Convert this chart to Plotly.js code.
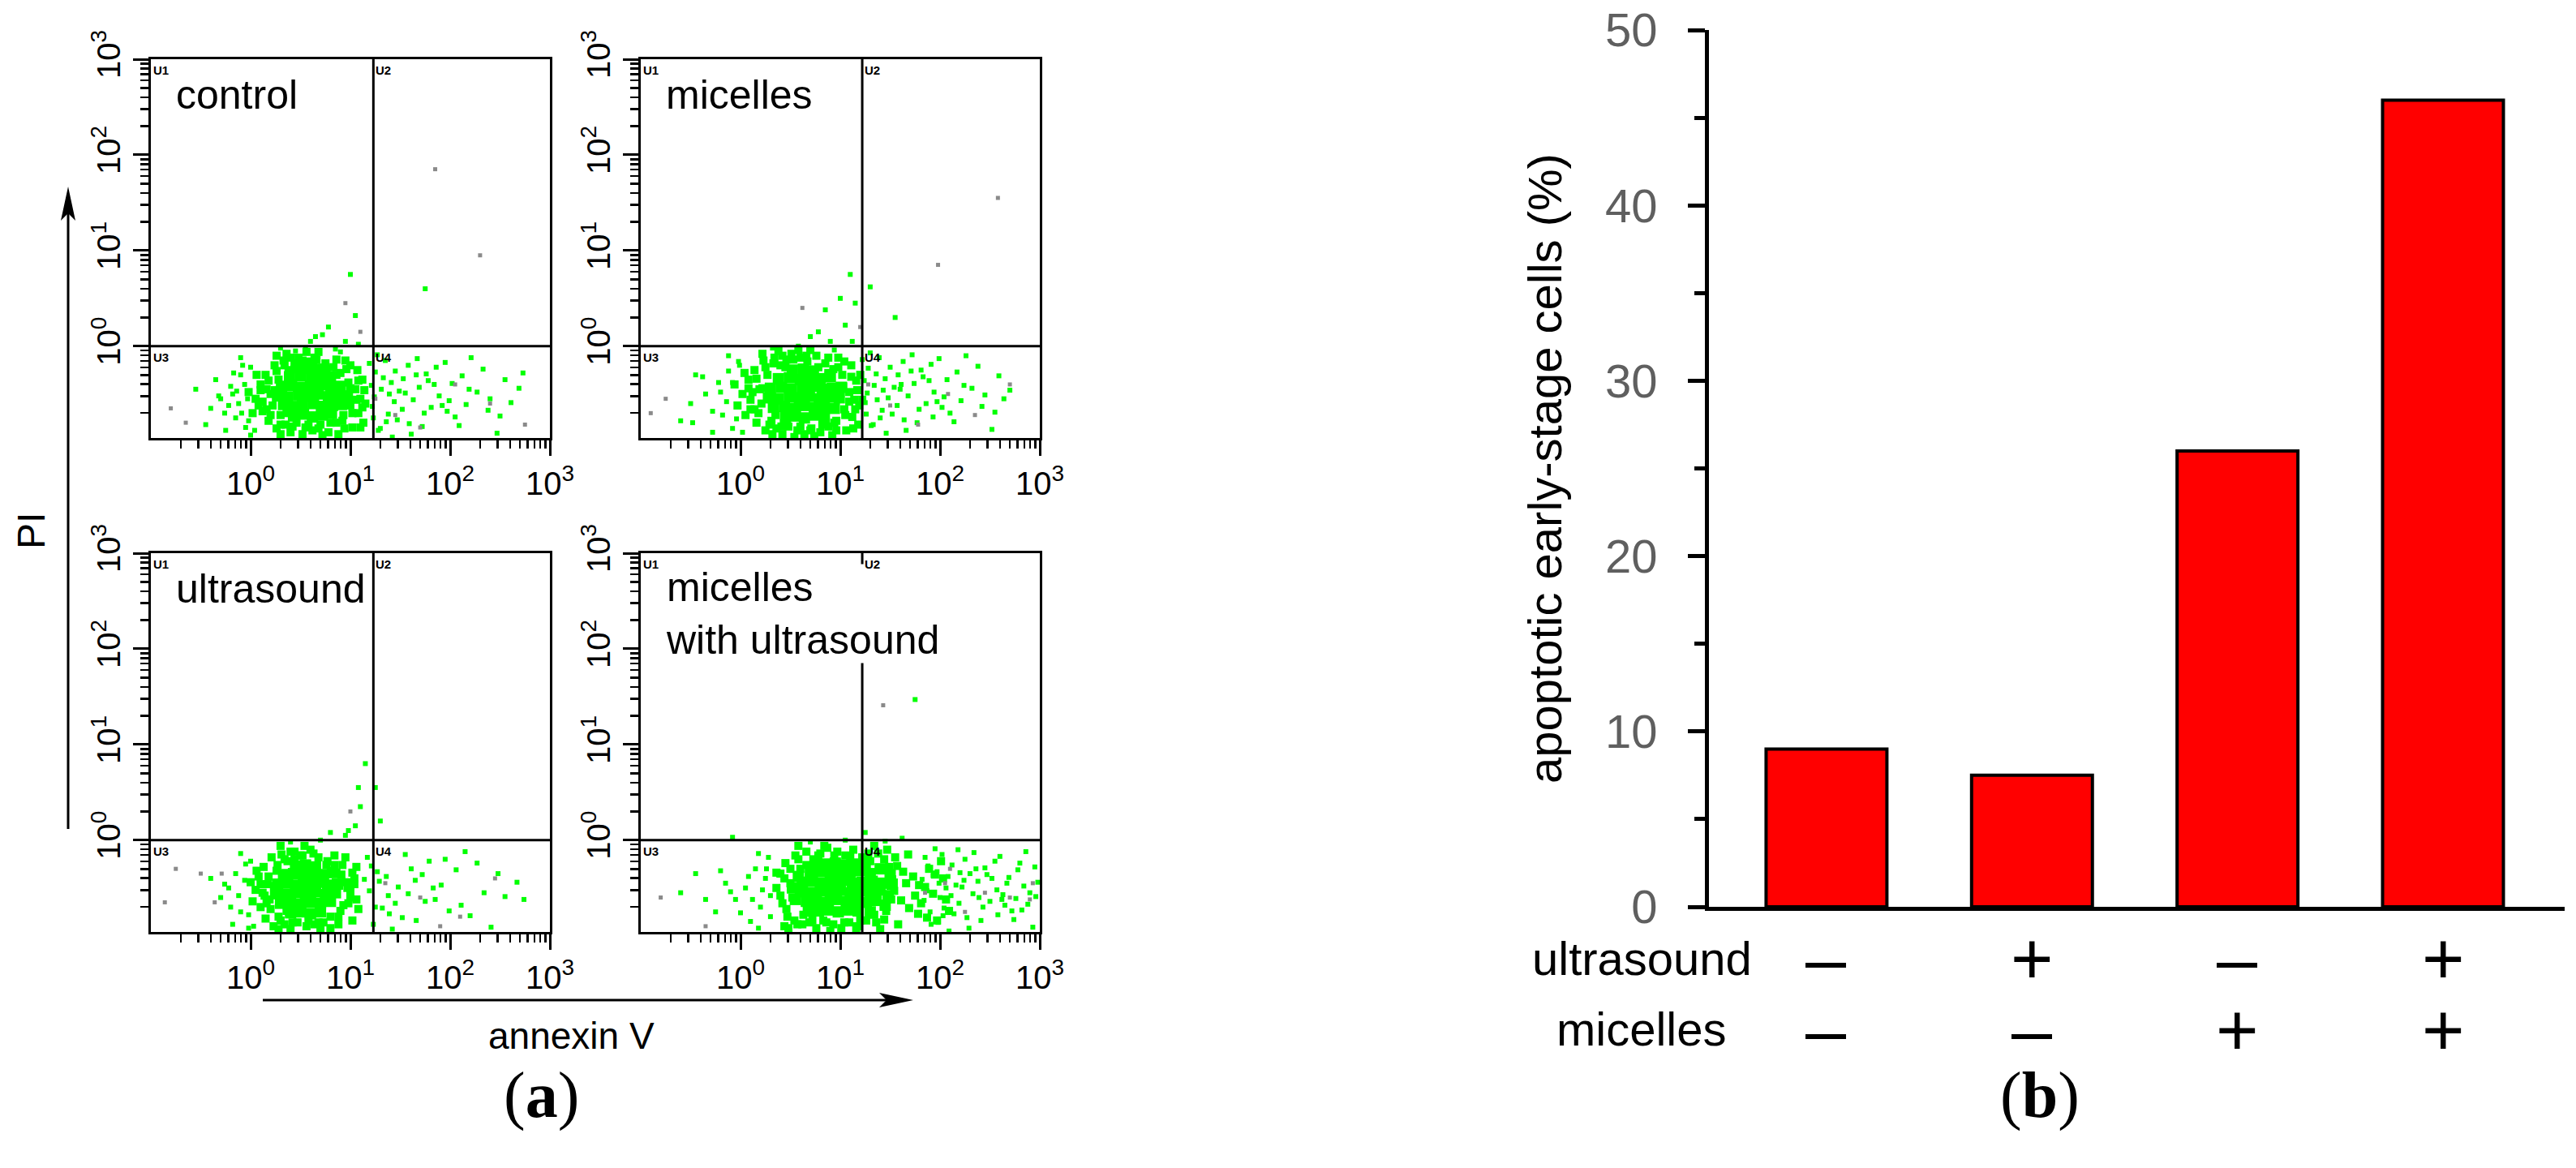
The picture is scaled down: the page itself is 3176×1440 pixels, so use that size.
<!DOCTYPE html>
<html>
<head>
<meta charset="utf-8">
<script src="https://cdn.plot.ly/plotly-3.0.1.min.js"></script>
<style>html,body{margin:0;padding:0;background:#fff;}#chart{width:3176px;height:1440px;}</style>
</head>
<body>
<div id="chart"></div>
<script>
// ---------------- DATA ----------------
// Flow cytometry dot plots: [log10(annexin V), log10(PI)]
// ---- control ----
const ctrlCore = [[0.43,-0.73],[0.53,-0.71],[0.62,-0.74],[0.72,-0.72],[0.81,-0.70],[0.33,-0.61],[0.42,-0.63],[0.52,-0.62],[0.63,-0.60],[0.71,-0.63],[0.82,-0.62],[0.91,-0.61],[0.27,-0.52],[0.37,-0.53],[0.48,-0.51],[0.58,-0.52],[0.68,-0.50],[0.78,-0.53],[0.88,-0.51],[0.97,-0.52],[0.31,-0.42],[0.41,-0.41],[0.50,-0.43],[0.60,-0.42],[0.70,-0.40],[0.80,-0.43],[0.90,-0.42],[0.39,-0.32],[0.50,-0.31],[0.61,-0.33],[0.71,-0.31],[0.80,-0.32],[0.51,-0.23],[0.61,-0.22],[0.71,-0.24]];
const ctrlMid = [[0.05,-0.55],[0.10,-0.40],[0.12,-0.68],[0.15,-0.30],[0.18,-0.78],[0.20,-0.50],[0.22,-0.62],[0.24,-0.20],[0.26,-0.86],[0.28,-0.35],[0.30,-0.72],[0.33,-0.15],[0.35,-0.82],[0.38,-0.25],[0.40,-0.90],[0.44,-0.18],[0.46,-0.80],[0.48,-0.12],[0.55,-0.85],[0.58,-0.16],[0.62,-0.88],[0.66,-0.14],[0.70,-0.82],[0.75,-0.18],[0.78,-0.90],[0.83,-0.22],[0.86,-0.80],[0.90,-0.28],[0.93,-0.72],[0.95,-0.15],[0.98,-0.38],[1.00,-0.62],[1.02,-0.85],[1.05,-0.45],[1.07,-0.25],[1.08,-0.70],[1.10,-0.55],[1.12,-0.35],[1.13,-0.80],[0.08,-0.62],[0.16,-0.45],[0.02,-0.70],[-0.02,-0.48],[0.36,-0.08],[0.68,-0.06],[0.52,-0.92],[0.88,-0.92],[1.15,-0.60],[1.00,-0.20],[0.26,-0.10],
  [0.12,-0.58],[0.18,-0.36],[0.20,-0.72],[0.24,-0.46],[0.26,-0.26],[0.30,-0.82],[0.34,-0.20],[0.36,-0.70],[0.42,-0.84],[0.44,-0.24],[0.52,-0.15],[0.58,-0.82],[0.64,-0.12],[0.68,-0.86],[0.76,-0.24],[0.80,-0.80],[0.86,-0.30],[0.92,-0.78],[0.96,-0.24],[1.00,-0.44],[1.02,-0.70],[1.06,-0.56],[1.08,-0.36],[1.12,-0.64],[0.10,-0.46],[0.16,-0.66],[0.94,-0.86],[0.40,-0.12],[0.86,-0.14],[1.14,-0.46],[0.06,-0.30],[0.30,-0.92],[0.72,-0.93],[1.10,-0.85],[0.56,-0.06]];
const ctrlHalo = [[-0.30,-0.55],[-0.20,-0.42],[-0.15,-0.75],[-0.10,-0.30],[-0.05,-0.85],[-0.55,-0.45],[-0.25,-0.88],[-0.08,-0.20],[0.00,-0.93],[-0.40,-0.65],[0.45,-0.05],[0.60,0.05],[0.72,0.12],[0.78,0.20],[0.95,0.05],[1.00,0.75],[1.05,0.32],[0.85,-0.03],[1.75,0.60],[-0.12,-0.60],[-0.06,-0.40],[-0.02,-0.78],[0.00,-0.22],[-0.18,-0.50],[-0.26,-0.70],[-0.35,-0.35],[0.04,-0.88],[-0.10,-0.12],[-0.45,-0.82],[0.30,-0.02],[0.55,-0.02],[0.90,-0.06],[0.65,0.10],[1.08,0.02],[-0.22,-0.62],[-0.14,-0.47],[-0.03,-0.55],[-0.09,-0.70],[-0.17,-0.28],[-0.32,-0.52]];
const ctrlTail = [[1.21,-0.41],[1.47,-0.77],[1.19,-0.18],[1.63,-0.56],[1.33,-0.33],[1.28,-0.88],[1.92,-0.62],[1.25,-0.27],[1.55,-0.49],[1.38,-0.71],[2.21,-0.12],[1.41,-0.38],[1.72,-0.84],[1.24,-0.53],[1.86,-0.22],[1.52,-0.66],[1.31,-0.45],[2.47,-0.91],[1.66,-0.30],[1.44,-0.58],[1.35,-0.15],[2.05,-0.74],[1.78,-0.36],[1.22,-0.63],[1.59,-0.81],[2.33,-0.24],[1.49,-0.47],[1.97,-0.68],[1.27,-0.09],[2.61,-0.59],[1.69,-0.43],[1.36,-0.79],[2.12,-0.31],[1.81,-0.64],[1.58,-0.20],[2.40,-0.55],[1.30,-0.86],[2.02,-0.39],[1.74,-0.70],[1.45,-0.26],[2.27,-0.48],[1.89,-0.52],[2.55,-0.35],[1.61,-0.92],[2.16,-0.61],[1.39,-0.50],[2.69,-0.44],[1.95,-0.17],[1.23,-0.75],[2.09,-0.83],[1.84,-0.40],[2.38,-0.67],[1.53,-0.34],[2.73,-0.28],[1.67,-0.13],[2.50,-0.73],[1.99,-0.57],[1.76,-0.29],[2.19,-0.45],[1.42,-0.95]];
const ctrlGray = [[-0.80,-0.65],[-0.65,-0.80],[1.25,-0.55],[1.45,-0.72],[1.70,-0.85],[2.05,-0.40],[2.40,-0.60],[2.75,-0.82],[1.10,0.15],[1.85,1.85],[2.30,0.95],[0.95,0.45]];

// ---- micelles ----
const micCore = [[0.45,-0.74],[0.55,-0.73],[0.64,-0.75],[0.74,-0.72],[0.84,-0.74],[0.33,-0.64],[0.44,-0.63],[0.54,-0.65],[0.64,-0.62],[0.74,-0.64],[0.84,-0.63],[0.94,-0.65],[0.28,-0.54],[0.38,-0.55],[0.49,-0.53],[0.59,-0.54],[0.69,-0.52],[0.79,-0.55],[0.89,-0.53],[0.99,-0.54],[0.30,-0.44],[0.41,-0.43],[0.51,-0.45],[0.62,-0.44],[0.72,-0.42],[0.82,-0.45],[0.92,-0.44],[1.01,-0.43],[0.38,-0.34],[0.49,-0.33],[0.60,-0.35],[0.70,-0.33],[0.80,-0.34],[0.90,-0.32],[0.52,-0.25],[0.63,-0.24],[0.73,-0.26]];
const micMid = [[0.02,-0.50],[0.08,-0.35],[0.10,-0.66],[0.14,-0.25],[0.16,-0.80],[0.19,-0.45],[0.21,-0.60],[0.23,-0.15],[0.25,-0.88],[0.27,-0.30],[0.31,-0.78],[0.34,-0.12],[0.36,-0.86],[0.40,-0.20],[0.42,-0.92],[0.46,-0.14],[0.48,-0.84],[0.51,-0.08],[0.57,-0.88],[0.60,-0.12],[0.64,-0.92],[0.67,-0.16],[0.71,-0.86],[0.76,-0.10],[0.80,-0.90],[0.85,-0.18],[0.88,-0.84],[0.93,-0.24],[0.96,-0.78],[0.98,-0.12],[1.02,-0.30],[1.04,-0.66],[1.06,-0.88],[1.09,-0.48],[1.11,-0.20],[1.12,-0.74],[1.14,-0.56],[1.16,-0.36],[1.18,-0.82],[0.05,-0.72],[0.12,-0.48],[-0.03,-0.62],[-0.06,-0.40],[0.38,-0.05],[0.70,-0.04],[0.54,-0.95],[0.92,-0.93],[1.19,-0.62],[1.04,-0.16],[0.22,-0.08],
  [0.10,-0.56],[0.16,-0.34],[0.18,-0.70],[0.22,-0.44],[0.25,-0.22],[0.29,-0.82],[0.33,-0.18],[0.35,-0.72],[0.41,-0.84],[0.45,-0.22],[0.53,-0.14],[0.60,-0.84],[0.66,-0.10],[0.70,-0.88],[0.78,-0.22],[0.82,-0.82],[0.88,-0.28],[0.94,-0.80],[0.98,-0.22],[1.03,-0.42],[1.05,-0.72],[1.09,-0.58],[1.11,-0.32],[1.15,-0.66],[0.08,-0.44],[0.14,-0.66],[0.96,-0.88],[0.42,-0.10],[0.88,-0.12],[1.17,-0.46],[0.04,-0.28],[0.32,-0.92],[0.74,-0.94],[1.13,-0.86],[0.58,-0.04],[1.20,-0.30],[1.22,-0.56]];
const micHalo = [[-0.35,-0.50],[-0.22,-0.38],[-0.18,-0.72],[-0.12,-0.26],[-0.08,-0.86],[-0.50,-0.60],[-0.28,-0.90],[-0.45,-0.30],[-0.02,-0.16],[-0.60,-0.78],[0.70,0.10],[0.90,0.05],[1.05,0.22],[1.15,0.45],[1.10,0.75],[1.30,0.62],[1.55,0.30],[0.85,0.38],[-0.14,-0.58],[-0.08,-0.38],[-0.04,-0.76],[-0.01,-0.20],[-0.20,-0.48],[-0.28,-0.68],[-0.38,-0.32],[0.02,-0.90],[-0.12,-0.10],[-0.48,-0.80],[0.32,-0.02],[0.58,0.00],[0.94,-0.04],[0.78,0.15],[1.12,0.05],[1.00,0.50]];
const micTail = [[1.24,-0.36],[1.52,-0.71],[1.22,-0.14],[1.68,-0.52],[1.36,-0.29],[1.31,-0.83],[1.97,-0.58],[1.28,-0.23],[1.60,-0.45],[1.42,-0.67],[2.26,-0.10],[1.45,-0.34],[1.77,-0.80],[1.27,-0.49],[1.91,-0.19],[1.57,-0.62],[1.34,-0.41],[2.52,-0.87],[1.71,-0.26],[1.48,-0.54],[1.39,-0.12],[2.10,-0.70],[1.83,-0.32],[1.25,-0.59],[1.64,-0.77],[2.38,-0.21],[1.54,-0.43],[2.02,-0.64],[1.30,-0.07],[2.64,-0.55],[1.74,-0.39],[1.40,-0.75],[2.17,-0.27],[1.86,-0.60],[1.63,-0.16],[2.45,-0.51],[1.33,-0.82],[2.07,-0.35],[1.79,-0.66],[1.50,-0.22],[2.32,-0.44],[1.94,-0.48],[2.59,-0.31],[1.66,-0.88],[2.21,-0.57],[1.43,-0.46],[1.99,-0.13],[1.26,-0.71],[2.14,-0.79],[1.89,-0.36],[2.42,-0.63],[1.58,-0.30],[1.72,-0.09],[2.55,-0.69],[2.04,-0.53],[1.81,-0.25],[2.24,-0.41],[1.46,-0.91],[1.37,-0.56],[1.61,-0.40],[1.93,-0.74],[2.70,-0.46]];
const micGray = [[-0.75,-0.55],[-0.90,-0.70],[1.28,-0.40],[1.50,-0.62],[1.78,-0.82],[2.08,-0.50],[2.35,-0.72],[2.70,-0.40],[1.20,0.20],[2.58,1.55],[1.98,0.85],[0.62,0.40]];

// ---- ultrasound ----
const usCore = [[0.40,-0.76],[0.50,-0.75],[0.60,-0.77],[0.70,-0.75],[0.30,-0.66],[0.40,-0.65],[0.50,-0.67],[0.60,-0.65],[0.70,-0.66],[0.80,-0.64],[0.25,-0.56],[0.35,-0.57],[0.45,-0.55],[0.55,-0.56],[0.65,-0.54],[0.75,-0.57],[0.85,-0.55],[0.27,-0.46],[0.37,-0.45],[0.47,-0.47],[0.57,-0.46],[0.67,-0.44],[0.77,-0.47],[0.87,-0.46],[0.33,-0.36],[0.43,-0.35],[0.53,-0.37],[0.63,-0.35],[0.73,-0.36],[0.82,-0.34],[0.45,-0.27],[0.55,-0.26],[0.65,-0.28]];
const usMid = [[0.05,-0.52],[0.08,-0.38],[0.10,-0.70],[0.13,-0.28],[0.15,-0.82],[0.17,-0.46],[0.19,-0.62],[0.21,-0.18],[0.23,-0.90],[0.26,-0.32],[0.28,-0.80],[0.31,-0.15],[0.34,-0.88],[0.37,-0.22],[0.40,-0.93],[0.44,-0.12],[0.47,-0.86],[0.50,-0.16],[0.56,-0.90],[0.60,-0.10],[0.64,-0.88],[0.68,-0.18],[0.73,-0.86],[0.77,-0.22],[0.80,-0.92],[0.84,-0.26],[0.88,-0.80],[0.91,-0.36],[0.93,-0.68],[0.95,-0.18],[0.97,-0.50],[1.00,-0.60],[1.02,-0.84],[1.04,-0.40],[1.06,-0.28],[1.08,-0.72],[0.02,-0.64],[0.00,-0.44],[0.12,-0.55],[0.30,-0.06],
  [0.14,-0.58],[0.18,-0.38],[0.20,-0.72],[0.24,-0.48],[0.27,-0.26],[0.30,-0.84],[0.34,-0.20],[0.36,-0.74],[0.42,-0.86],[0.44,-0.20],[0.52,-0.16],[0.58,-0.84],[0.63,-0.14],[0.68,-0.86],[0.76,-0.26],[0.80,-0.80],[0.86,-0.34],[0.90,-0.74],[0.92,-0.26],[0.96,-0.44],[0.98,-0.66],[1.00,-0.54],[1.02,-0.34],[0.10,-0.46],[0.16,-0.66],[0.88,-0.88],[0.40,-0.12],[0.84,-0.16],[0.06,-0.32],[0.28,-0.93],[0.70,-0.93],[0.54,-0.06],[1.06,-0.62],[1.04,-0.46]];
const usHalo = [[-0.22,-0.50],[-0.15,-0.35],[-0.10,-0.75],[-0.05,-0.25],[-0.18,-0.88],[-0.30,-0.60],[-0.02,-0.92],[-0.40,-0.40],[0.95,0.05],[1.05,0.15],[1.10,0.35],[1.15,0.80],[1.25,0.55],[1.30,0.20],[0.80,0.08],[-0.12,-0.58],[-0.06,-0.42],[-0.02,-0.78],[0.00,-0.22],[-0.20,-0.70],[-0.26,-0.46],[0.03,-0.90],[-0.10,-0.14],[0.40,-0.02],[0.70,0.00],[0.98,0.10],[1.08,0.55]];
const usTail = [[1.14,-0.41],[1.39,-0.77],[1.17,-0.18],[1.58,-0.56],[1.27,-0.33],[1.23,-0.88],[1.85,-0.62],[1.21,-0.27],[1.48,-0.49],[1.32,-0.71],[2.15,-0.12],[1.36,-0.38],[1.66,-0.84],[1.19,-0.53],[1.79,-0.22],[1.45,-0.66],[2.41,-0.91],[1.61,-0.30],[1.38,-0.58],[1.99,-0.74],[1.72,-0.36],[2.27,-0.24],[1.52,-0.81],[1.91,-0.47],[2.55,-0.59],[1.29,-0.43],[2.06,-0.31],[1.75,-0.64],[2.34,-0.55],[1.95,-0.20],[2.67,-0.44],[1.55,-0.15],[2.11,-0.68],[1.42,-0.93],[2.48,-0.35],[1.83,-0.50],[2.20,-0.79],[1.65,-0.42],[2.74,-0.62],[1.25,-0.70]];
const usGray = [[-0.75,-0.30],[-0.50,-0.35],[-0.29,-0.35],[-0.86,-0.65],[-0.36,-0.65],[1.35,-0.45],[1.70,-0.60],[2.10,-0.80],[2.45,-0.40],[1.00,0.30],[1.90,-0.90]];

// ---- micelles with ultrasound ----
const muCore = [[0.78,-0.74],[0.88,-0.73],[0.98,-0.75],[1.08,-0.73],[1.18,-0.74],[0.66,-0.64],[0.76,-0.63],[0.86,-0.65],[0.96,-0.62],[1.06,-0.64],[1.16,-0.63],[1.26,-0.65],[1.36,-0.63],[0.60,-0.54],[0.70,-0.55],[0.80,-0.53],[0.90,-0.54],[1.00,-0.52],[1.10,-0.55],[1.20,-0.53],[1.30,-0.54],[1.40,-0.52],[0.62,-0.44],[0.72,-0.43],[0.82,-0.45],[0.92,-0.44],[1.02,-0.42],[1.12,-0.45],[1.22,-0.44],[1.32,-0.43],[1.42,-0.45],[0.70,-0.34],[0.80,-0.33],[0.90,-0.35],[1.00,-0.33],[1.10,-0.34],[1.20,-0.32],[1.30,-0.35],[0.85,-0.25],[0.95,-0.24],[1.05,-0.26],[1.15,-0.25],
  [0.52,-0.50],[0.55,-0.62],[0.58,-0.38],[1.48,-0.58],[1.52,-0.46],[1.50,-0.36],[1.45,-0.68],[0.68,-0.74],[1.30,-0.75],[1.40,-0.30],[0.75,-0.25],[1.25,-0.26]];
const muMid = [[0.36,-0.50],[0.40,-0.35],[0.42,-0.66],[0.45,-0.24],[0.47,-0.80],[0.50,-0.45],[0.52,-0.60],[0.55,-0.16],[0.57,-0.88],[0.60,-0.30],[0.63,-0.78],[0.66,-0.12],[0.69,-0.86],[0.73,-0.20],[0.76,-0.92],[0.80,-0.14],[0.83,-0.84],[0.87,-0.08],[0.93,-0.88],[0.97,-0.12],[1.01,-0.92],[1.05,-0.16],[1.09,-0.86],[1.13,-0.10],[1.17,-0.90],[1.22,-0.18],[1.26,-0.84],[1.30,-0.22],[1.34,-0.78],[1.38,-0.14],[1.47,-0.10],[0.44,-0.90],[1.40,-0.93],[0.90,-0.95],[0.58,-0.06],
  [0.40,-0.58],[0.44,-0.40],[0.46,-0.72],[0.50,-0.30],[0.54,-0.84],[0.58,-0.20],[0.62,-0.88],[0.66,-0.26],[0.72,-0.84],[0.78,-0.16],[0.86,-0.86],[0.94,-0.16],[1.04,-0.86],[1.10,-0.18],[1.20,-0.84],[1.28,-0.14],[1.36,-0.86],[1.44,-0.20],[0.36,-0.34],[0.48,-0.92],[1.16,-0.93],[0.84,-0.06],[1.34,-0.06],
  [1.52,-0.41],[1.78,-0.77],[1.55,-0.18],[1.93,-0.56],[1.63,-0.33],[1.58,-0.88],[2.06,-0.62],[1.57,-0.27],[1.85,-0.49],[1.69,-0.71],[1.73,-0.38],[1.97,-0.84],[1.54,-0.53],[2.01,-0.22],[1.81,-0.66],[1.66,-0.45],[1.89,-0.30],[1.75,-0.58],[1.68,-0.15],[2.09,-0.74],[1.95,-0.36],[1.61,-0.63],[1.87,-0.81],[1.79,-0.47],[2.03,-0.40],[1.46,-0.74],[1.49,-0.28],[1.44,-0.83],[1.51,-0.62]];
const muHalo = [[0.30,-0.58],[0.25,-0.40],[0.20,-0.70],[0.15,-0.30],[0.10,-0.85],[0.05,-0.50],[-0.05,-0.62],[-0.15,-0.45],[-0.25,-0.75],[-0.45,-0.35],[-0.60,-0.55],[0.28,-0.18],[0.18,-0.92],[-0.08,0.03],[1.62,0.02],[1.75,1.47],[0.22,-0.52],[0.26,-0.30],[0.12,-0.62],[0.08,-0.38],[0.00,-0.76],[-0.10,-0.54],[-0.20,-0.32],[0.30,-0.80],[0.18,-0.14],[-0.35,-0.62],[0.70,-0.02],[1.05,0.00],[1.45,-0.01],[1.25,0.08]];
const muTail = [[1.82,-0.41],[2.14,-0.77],[1.85,-0.18],[2.33,-0.56],[1.97,-0.33],[1.91,-0.88],[2.62,-0.62],[1.88,-0.27],[2.22,-0.49],[2.04,-0.71],[2.86,-0.12],[2.08,-0.38],[2.41,-0.84],[1.87,-0.53],[2.55,-0.22],[2.19,-0.66],[1.99,-0.45],[2.93,-0.91],[2.36,-0.30],[2.11,-0.58],[2.02,-0.15],[2.72,-0.74],[2.47,-0.36],[1.84,-0.63],[2.27,-0.81],[2.80,-0.24],[2.16,-0.47],[2.65,-0.68],[1.95,-0.09],[2.96,-0.59],[2.38,-0.43],[2.03,-0.79],[2.78,-0.31],[2.50,-0.64],[2.25,-0.20],[2.90,-0.55],[1.98,-0.86],[2.69,-0.39],[2.43,-0.70],[2.12,-0.26],[2.84,-0.48],[2.57,-0.52],[2.30,-0.35],[2.29,-0.92],[2.76,-0.61],[2.06,-0.50],[2.98,-0.44],[2.60,-0.17],[1.90,-0.75],[2.74,-0.83],[2.52,-0.40],[2.88,-0.67],[2.20,-0.34],[2.95,-0.28],[2.34,-0.13],[2.82,-0.73],[2.63,-0.57],[2.45,-0.29],[2.67,-0.45],[2.09,-0.95],[2.00,-0.60],[2.24,-0.42],[2.39,-0.60],[2.58,-0.78],[2.18,-0.10],[1.93,-0.37]];
const muGray = [[-0.80,-0.60],[-0.35,-0.90],[1.85,-0.55],[2.05,-0.45],[2.25,-0.75],[2.45,-0.55],[2.70,-0.60],[2.90,-0.62],[2.93,-0.45],[1.43,1.41],[2.10,-0.30]];

const panelNames = ['control', 'micelles', 'ultrasound', 'micelles<br>with ultrasound'];
const gateAnnexin = [17, 16.6, 17, 16.6];   // quadrant gate, annexin V
const gatePI = [1, 1, 1, 1];                // quadrant gate, PI
const decadeTicks = [1, 10, 100, 1000];
const decadeLabels = ['10<sup>0</sup>', '10<sup>1</sup>', '10<sup>2</sup>', '10<sup>3</sup>'];
const quadrantLabels = ['U1', 'U2', 'U3', 'U4'];

// Bar chart (b)
const conditions = ['control', 'ultrasound', 'micelles', 'micelles + ultrasound'];
const apoptoticEarly = [9, 7.5, 26, 46];
const ultrasoundSign = ['\u2013', '+', '\u2013', '+'];
const micellesSign = ['\u2013', '\u2013', '+', '+'];

// ---------------- LAYOUT HELPERS ----------------
const W = 3176, H = 1440;
const PX = p => p / W, PY = p => 1 - p / H;
const FONT = 'Liberation Sans, Arial, sans-serif';
const panels = [
  {x0: 186, x1: 678, y0: 73, y1: 540},
  {x0: 790, x1: 1282, y0: 73, y1: 540},
  {x0: 186, x1: 678, y0: 682, y1: 1149},
  {x0: 790, x1: 1282, y0: 682, y1: 1149}
];
const minorVals = [];
[0.1, 1, 10, 100].forEach(d => { for (let m = 2; m <= 9; m++) minorVals.push(m * d); });

const groups = [
  [ctrlCore, ctrlMid, ctrlHalo, ctrlTail, ctrlGray],
  [micCore, micMid, micHalo, micTail, micGray],
  [usCore, usMid, usHalo, usTail, usGray],
  [muCore, muMid, muHalo, muTail, muGray]
];
const groupStyle = [
  {size: 14, color: '#00ff00'},
  {size: 10, color: '#00ff00'},
  {size: 6, color: '#00ff00'},
  {size: 6, color: '#00ff00'},
  {size: 5, color: '#8a8a8a'}
];

const traces = [];
const layout = {
  width: W, height: H,
  margin: {l: 0, r: 0, t: 0, b: 0},
  paper_bgcolor: '#ffffff', plot_bgcolor: 'rgba(0,0,0,0)',
  showlegend: false,
  font: {family: FONT, color: '#000'},
  shapes: [], annotations: []
};

function flowAxis(domain, isY) {
  return {
    domain: domain, type: 'log',
    range: isY ? [-0.96, 3] : [-1, 3],
    tickmode: 'array', tickvals: decadeTicks, ticktext: decadeLabels,
    ticks: 'outside', ticklen: 19, tickwidth: 3, tickcolor: '#000',
    tickangle: isY ? -90 : 0,
    tickfont: {family: FONT, size: 40, color: '#000'},
    showline: true, linewidth: 3, linecolor: '#000', mirror: true,
    showgrid: false, zeroline: false,
    minor: {tickmode: 'array', tickvals: minorVals, ticks: 'outside', ticklen: 10, tickwidth: 2.5, tickcolor: '#000', showgrid: false}
  };
}

panels.forEach((p, i) => {
  const n = i + 1;
  const xa = n === 1 ? 'x' : 'x' + n, ya = n === 1 ? 'y' : 'y' + n;
  layout['xaxis' + (n === 1 ? '' : n)] = Object.assign(flowAxis([PX(p.x0), PX(p.x1)], false), {anchor: ya});
  layout['yaxis' + (n === 1 ? '' : n)] = Object.assign(flowAxis([PY(p.y1), PY(p.y0)], true), {anchor: xa});

  groups[i].forEach((g, k) => {
    traces.push({
      type: 'scatter', mode: 'markers', xaxis: xa, yaxis: ya,
      x: g.map(q => Math.pow(10, q[0])), y: g.map(q => Math.pow(10, q[1])),
      marker: {symbol: 'square', size: groupStyle[k].size, color: groupStyle[k].color, line: {width: 0}},
      hoverinfo: 'skip'
    });
  });

  // quadrant gates
  layout.shapes.push({type: 'line', xref: xa, yref: ya + ' domain', x0: gateAnnexin[i], x1: gateAnnexin[i], y0: 0, y1: 1, line: {color: '#000', width: 3}});
  layout.shapes.push({type: 'line', xref: xa + ' domain', yref: ya, x0: 0, x1: 1, y0: gatePI[i], y1: gatePI[i], line: {color: '#000', width: 3}});

  // panel label (white box hides the gate line, as in the original)
  const twoLine = panelNames[i].indexOf('<br>') >= 0;
  layout.annotations.push({
    xref: 'paper', yref: 'paper', x: PX(p.x0 + 30), y: PY(p.y0 + (twoLine ? 74 : 44)),
    xanchor: 'left', yanchor: 'middle', align: 'left', showarrow: false,
    text: panelNames[i], font: {family: FONT, size: 50, color: '#000'},
    bgcolor: twoLine ? '#ffffff' : 'rgba(0,0,0,0)', borderpad: 0
  });

  // quadrant tags
  const gl = Math.log10(gateAnnexin[i]), pl = Math.log10(gatePI[i]);
  const tagPos = [[-1, 'dom'], [gl, 'dom'], [-1, pl], [gl, pl]];
  tagPos.forEach((t, k) => {
    layout.annotations.push({
      xref: xa, x: t[0], xanchor: 'left', xshift: 1,
      yref: t[1] === 'dom' ? ya + ' domain' : ya, y: t[1] === 'dom' ? 1 : t[1],
      yanchor: 'top', yshift: -3, showarrow: false,
      text: '<b>' + quadrantLabels[k] + '</b>', font: {family: FONT, size: 15, color: '#000'}
    });
  });
});

// common axis titles for (a)
layout.annotations.push({xref: 'paper', yref: 'paper', x: PX(38), y: PY(655), text: 'PI', textangle: -90,
  showarrow: false, font: {family: FONT, size: 48, color: '#000'}, xanchor: 'center', yanchor: 'middle'});
layout.annotations.push({xref: 'paper', yref: 'paper', x: PX(704), y: PY(1277), text: 'annexin V',
  showarrow: false, font: {family: FONT, size: 46, color: '#000'}, xanchor: 'center', yanchor: 'middle'});
layout.annotations.push({xref: 'paper', yref: 'paper', x: PX(667), y: PY(1350), text: '(<b>a</b>)',
  showarrow: false, font: {family: 'Liberation Serif, DejaVu Serif, serif', size: 80, color: '#000'}, xanchor: 'center', yanchor: 'middle'});

// arrows
const P = (x, y) => PX(x).toFixed(5) + ',' + PY(y).toFixed(5);
layout.shapes.push({type: 'line', xref: 'paper', yref: 'paper', x0: PX(84), x1: PX(84), y0: PY(1022), y1: PY(262), line: {color: '#000', width: 3}});
layout.shapes.push({type: 'path', xref: 'paper', yref: 'paper', path: 'M' + P(84, 230) + 'L' + P(75, 272) + 'L' + P(84, 263) + 'L' + P(93, 272) + 'Z', fillcolor: '#000', line: {width: 0}});
layout.shapes.push({type: 'line', xref: 'paper', yref: 'paper', x0: PX(324), x1: PX(1096), y0: PY(1233), y1: PY(1233), line: {color: '#000', width: 3}});
layout.shapes.push({type: 'path', xref: 'paper', yref: 'paper', path: 'M' + P(1126, 1233) + 'L' + P(1084, 1224) + 'L' + P(1093, 1233) + 'L' + P(1084, 1242) + 'Z', fillcolor: '#000', line: {width: 0}});

// ---------------- BAR CHART (b) ----------------
traces.push({
  type: 'bar', x: conditions, y: apoptoticEarly, xaxis: 'x5', yaxis: 'y5', width: 0.588,
  marker: {color: '#ff0000', line: {color: '#000', width: 4}}, hoverinfo: 'skip'
});
layout.xaxis5 = {
  domain: [PX(2107), PX(3162)], anchor: 'y5', type: 'category', range: [-0.572, 3.592],
  showticklabels: false, ticks: '', showline: true, linewidth: 5, linecolor: '#000',
  showgrid: false, zeroline: false
};
layout.yaxis5 = {
  domain: [PY(1118), PY(37)], anchor: 'x5', range: [0, 50],
  tickmode: 'linear', tick0: 0, dtick: 10,
  ticks: 'outside', ticklen: 21, tickwidth: 5, tickcolor: '#000', ticklabelstandoff: 26,
  tickfont: {family: FONT, size: 58, color: '#5f5f5f'},
  showline: true, linewidth: 5, linecolor: '#000', showgrid: false, zeroline: false,
  minor: {tick0: 0, dtick: 5, ticks: 'outside', ticklen: 13, tickwidth: 5, tickcolor: '#000', showgrid: false},
  title: {text: 'apoptotic early-stage cells (%)', font: {family: FONT, size: 58, color: '#000'}, standoff: 36}
};
layout.annotations.push({xref: 'paper', yref: 'paper', x: PX(2024), y: PY(1181), text: 'ultrasound',
  showarrow: false, font: {family: FONT, size: 58, color: '#000'}, xanchor: 'center', yanchor: 'middle'});
layout.annotations.push({xref: 'paper', yref: 'paper', x: PX(2024), y: PY(1268), text: 'micelles',
  showarrow: false, font: {family: FONT, size: 58, color: '#000'}, xanchor: 'center', yanchor: 'middle'});
conditions.forEach((c, i) => {
  layout.annotations.push({xref: 'x5', yref: 'paper', x: c, y: PY(1182), text: ultrasoundSign[i],
    showarrow: false, font: {family: FONT, size: 90, color: '#000'}, xanchor: 'center', yanchor: 'middle'});
  layout.annotations.push({xref: 'x5', yref: 'paper', x: c, y: PY(1270), text: micellesSign[i],
    showarrow: false, font: {family: FONT, size: 90, color: '#000'}, xanchor: 'center', yanchor: 'middle'});
});
layout.annotations.push({xref: 'paper', yref: 'paper', x: PX(2515), y: PY(1350), text: '(<b>b</b>)',
  showarrow: false, font: {family: 'Liberation Serif, DejaVu Serif, serif', size: 80, color: '#000'}, xanchor: 'center', yanchor: 'middle'});

Plotly.newPlot('chart', traces, layout, {displayModeBar: false, staticPlot: true});
</script>
</body>
</html>
